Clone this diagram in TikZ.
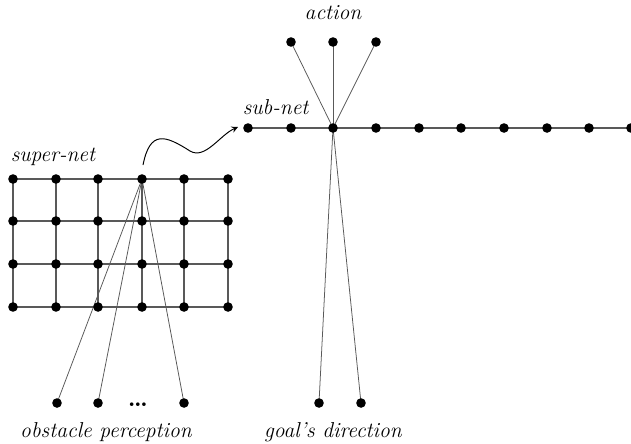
\documentclass[tikz,border=0pt]{standalone}
\usetikzlibrary{backgrounds}
\begin{document}
\begin{tikzpicture}[x=0.52pt,y=-0.52pt,
  dot/.style={circle,fill=black,inner sep=0pt,minimum size=5pt},
  gridline/.style={draw=black!65,line width=0.6pt},
  fanline/.style={draw=black!65,line width=0.4pt},
  lbl/.style={font=\fontsize{11.2}{13}\selectfont\itshape}]
\useasboundingbox (0,0) rectangle (631,444);
% super-net grid
\foreach \c/\x in {1/13,2/56,3/98,4/142,5/184,6/228}{
  \foreach \r/\y in {1/179,2/221,3/264,4/307}{
    \node[dot] (g\c\r) at (\x,\y) {};
  }
}
% sub-net
\foreach \i/\x in {1/248,2/291,3/333,4/376,5/419,6/461,7/504,8/547,9/589,10/631}{
  \node[dot] (s\i) at (\x,128) {};
}
% action
\node[dot] (a1) at (291,42) {};
\node[dot] (a2) at (333,42) {};
\node[dot] (a3) at (376,42) {};
% obstacle perception
\node[dot] (o1) at (57,403) {};
\node[dot] (o2) at (98,403) {};
\node[dot] (o3) at (184,403) {};
\node[font=\fontsize{13}{15}\selectfont\bfseries] (odots) at (138,405) {\dots};
% goal's direction
\node[dot] (d1) at (319,403) {};
\node[dot] (d2) at (361,403) {};
\begin{scope}[on background layer]
\foreach \c in {1,...,6}{
  \draw[gridline] (g\c1.center) -- (g\c4.center);
}
\foreach \r in {1,...,4}{
  \draw[gridline] (g1\r.center) -- (g6\r.center);
}
\draw[gridline] (s1.center) -- (s10.center);
\foreach \i in {1,2,3}{\draw[fanline] (s3.center) -- (a\i.center);}
\foreach \i in {1,2,3}{\draw[fanline] (g41.center) -- (o\i.center);}
\draw[fanline] (s3.center) -- (d1.center);
\draw[fanline] (s3.center) -- (d2.center);
\end{scope}
% labels
\node[lbl] (lact) at (333,13) {action};
\node[lbl,anchor=west] (lsub) at (236,107) {sub-net};
\node[lbl,anchor=west] (lsup) at (4,157) {super-net};
\node[lbl] (lobs) at (106,432) {obstacle perception};
\node[lbl] (lgoal) at (333,432) {goal's direction};
% curved arrow
\coordinate (cs) at (143,165);
\coordinate (ce) at (238,127);
\draw[->,>=stealth,line width=0.5pt] (cs) .. controls (150,130) and (165,135) .. (190,151)
  .. controls (205,160) and (220,135) .. (ce);
\end{tikzpicture}
\end{document}
